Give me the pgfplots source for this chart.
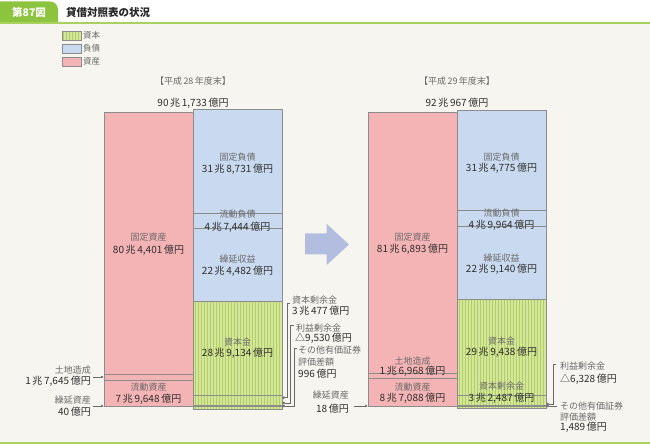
\documentclass[border=0pt]{standalone}
\usepackage{pgfplots}
\pgfplotsset{compat=1.18}
\usepackage{pgfplotstable}
\usepackage{fontspec}
\setmainfont{Noto Sans CJK JP}
\usetikzlibrary{patterns,arrows.meta}

\definecolor{bg}{HTML}{F6F5F0}
\definecolor{assetpink}{HTML}{F4B3B4}
\definecolor{liabblue}{HTML}{C9D9EF}
\definecolor{capgreen}{HTML}{D3E69B}
\definecolor{capstripe}{HTML}{B2CE64}
\definecolor{edge}{HTML}{8C8C8C}
\definecolor{tabgreen}{HTML}{8DC43F}
\definecolor{linegreen}{HTML}{A9D15E}
\definecolor{arrowblue}{HTML}{B3BDE0}
\definecolor{labgray}{HTML}{6A6A6A}
\definecolor{valdark}{HTML}{2E2E2E}

% values in trillion yen (cho-en); columns 0 = assets bar, 1 = liabilities/net assets bar
\pgfplotstableread{
x deferred current land fixed other capsur retained capital defrev curliab fixliab
0 0.0040 7.9648 1.7645 80.4401 0 0 0 0 0 0 0
1 0 0 0 0 0.0996 3.0477 -0.9530 28.9134 22.4482 4.7444 31.8731
}\tblA
\pgfplotstableread{
x deferred current land fixed other capsur retained capital defrev curliab fixliab
0 0.0018 8.7088 1.6968 81.6893 0 0 0 0 0 0 0
1 0 0 0 0 0.1489 3.2487 -0.6328 29.9438 22.9140 4.9964 31.4775
}\tblB

\pgfplotsset{
  bs/.style={ybar stacked, bar width=89pt, xmin=-0.5, xmax=1.5, ymin=0,
    width=178pt, height=294pt, scale only axis, hide axis, clip=false,
    every axis plot/.append style={draw=edge, line width=0.5pt}},
  pink/.style={fill=assetpink},
  blue/.style={fill=liabblue},
  green/.style={fill=capgreen, postaction={pattern=vertical lines, pattern color=capstripe}},
}
\newcommand{\bars}[1]{%
  \addplot[pink, forget plot] table[x=x, y=deferred] {#1};
  \addplot[pink, forget plot] table[x=x, y=current] {#1};
  \addplot[pink, forget plot] table[x=x, y=land] {#1};
  \addplot[pink, forget plot] table[x=x, y=fixed] {#1};
  \addplot[green, forget plot] table[x=x, y=other] {#1};
  \addplot[green, forget plot] table[x=x, y=capsur] {#1};
  \addplot[green, forget plot] table[x=x, y=retained] {#1};
  \addplot[green, forget plot] table[x=x, y=capital] {#1};
  \addplot[blue, forget plot] table[x=x, y=defrev] {#1};
  \addplot[blue, forget plot] table[x=x, y=curliab] {#1};
  \addplot[blue, forget plot] table[x=x, y=fixliab] {#1};
}

\begin{document}
\begin{tikzpicture}[x=1pt, y=1pt,
  lab/.style={font=\fontsize{9}{10}\selectfont, text=labgray, inner sep=0pt},
  val/.style={font=\fontsize{10}{11}\selectfont, text=valdark, inner sep=0pt},
  lead/.style={draw=labgray, line width=0.5pt}]
\fill[bg] (0,0) rectangle (650,-444);
\useasboundingbox (0,0) rectangle (650,-444);

% header
\fill[white] (0,0) rectangle (650,-22);
\fill[tabgreen] (0,-22) -- (0,-1.5) -- (50,-1.5) arc[start angle=90, end angle=0, radius=8] -- (58,-22) -- cycle;
\fill[linegreen] (0,-22) rectangle (650,-24);
\fill[linegreen] (0,-442) rectangle (650,-444);
\node[font=\fontsize{10.5}{12}\selectfont\bfseries, text=white, anchor=west, inner sep=0pt] at (12,-12) {第87図};
\node[font=\fontsize{10.5}{12}\selectfont\bfseries, text=black!85, anchor=west, inner sep=0pt] at (66,-12) {貸借対照表の状況};

\begin{axis}[bs, at={(104pt,-406pt)}, anchor=south west, ymax=90.1734,
  legend style={at={(axis description cs:-0.236,1.28)}, anchor=north west, draw=none, fill=none,
    inner sep=0pt, row sep=1.5pt, font=\fontsize{8.5}{10}\selectfont, text=labgray,
    nodes={inner sep=1.5pt}},
  legend image code/.code={\draw[#1, draw=edge, line width=0.5pt] (0pt,-4.5pt) rectangle (19pt,4.5pt);}]
\addlegendimage{green}\addlegendentry{資本}
\addlegendimage{blue}\addlegendentry{負債}
\addlegendimage{pink}\addlegendentry{資産}
\bars{\tblA}
\end{axis}

\begin{axis}[bs, at={(368pt,-406pt)}, anchor=south west, ymax=92.0967]
\bars{\tblB}
\end{axis}

% middle arrow
\fill[arrowblue] (305,-233.3) -- (326.7,-233.3) -- (326.7,-224) -- (349,-244.5) -- (326.7,-265) -- (326.7,-254.3) -- (305,-254.3) -- cycle;

% ---- H28 ----
\node[lab] at (193,-81) {【平成\,28\,年度末】};
\node[val] at (193,-103) {90\,兆\,1,733\,億円};
\node[lab] at (148.5,-237.5) {固定資産};
\node[val] at (148.5,-250) {80\,兆\,4,401\,億円};
\node[lab] at (237.5,-157) {固定負債};
\node[val] at (237.5,-169) {31\,兆\,8,731\,億円};
\node[lab] at (237.5,-214.5) {流動負債};
\node[val] at (237.5,-227.5) {4\,兆\,7,444\,億円};
\node[lab] at (237.5,-259) {繰延収益};
\node[val] at (237.5,-271) {22\,兆\,4,482\,億円};
\node[lab] at (237.5,-342) {資本金};
\node[val] at (237.5,-353) {28\,兆\,9,134\,億円};
\node[lab] at (148.5,-387) {流動資産};
\node[val] at (148.5,-399) {7\,兆\,9,648\,億円};
\node[lab, anchor=east] at (91,-370) {土地造成};
\node[val, anchor=east] at (91,-381.5) {1\,兆\,7,645\,億円};
\node[lab, anchor=east] at (91,-400) {繰延資産};
\node[val, anchor=east] at (91,-412) {40\,億円};
\draw[lead, -{Latex[length=3pt, width=2.6pt]}] (93,-377) -- (104,-377);
\draw[lead, -{Latex[length=3pt, width=2.6pt]}] (93,-406) -- (104,-406);
\node[lab, anchor=west] at (292,-300) {資本剰余金};
\node[val, anchor=west] at (292,-310.5) {3\,兆\,477\,億円};
\node[lab, anchor=west] at (296,-327.7) {利益剰余金};
\node[val, anchor=west] at (295,-338) {△9,530\,億円};
\node[lab, anchor=west] at (298,-350) {その他有価証券};
\node[lab, anchor=west] at (298,-362) {評価差額};
\node[val, anchor=west] at (298,-374) {996\,億円};
\draw[lead, {Circle[length=2.4pt]}-] (282.5,-397.7) -- (287,-397.7) -- (287,-303) -- (290,-303);
\draw[lead, {Circle[length=2.4pt]}-] (282.5,-403) -- (290.5,-403) -- (290.5,-325.5) -- (294,-325.5);
\draw[lead, {Circle[length=2.4pt]}-] (282.5,-406) -- (294,-406) -- (294,-348) -- (297,-348);

% ---- H29 ----
\node[lab] at (457,-81) {【平成\,29\,年度末】};
\node[val] at (457,-103) {92\,兆\,967\,億円};
\node[lab] at (412.5,-236.7) {固定資産};
\node[val] at (412.5,-249) {81\,兆\,6,893\,億円};
\node[lab] at (501.5,-156.7) {固定負債};
\node[val] at (501.5,-168) {31\,兆\,4,775\,億円};
\node[lab] at (501.5,-213) {流動負債};
\node[val] at (501.5,-225.5) {4\,兆\,9,964\,億円};
\node[lab] at (501.5,-257.7) {繰延収益};
\node[val] at (501.5,-269.3) {22\,兆\,9,140\,億円};
\node[lab] at (501.5,-340.7) {資本金};
\node[val] at (501.5,-352.3) {29\,兆\,9,438\,億円};
\node[lab] at (501.5,-386) {資本剰余金};
\node[val] at (501.5,-398.3) {3\,兆\,2,487\,億円};
\node[lab] at (412.5,-361) {土地造成};
\node[val] at (412.5,-371.7) {1\,兆\,6,968\,億円};
\node[lab] at (412.5,-386.7) {流動資産};
\node[val] at (412.5,-398.3) {8\,兆\,7,088\,億円};
\node[lab, anchor=east] at (349,-395.5) {繰延資産};
\node[val, anchor=east] at (349,-408.5) {18\,億円};
\draw[lead, -{Latex[length=3pt, width=2.6pt]}] (354,-406) -- (368,-406);
\node[lab, anchor=west] at (560,-366) {利益剰余金};
\node[val, anchor=west] at (560,-379.3) {△6,328\,億円};
\node[lab, anchor=west] at (560,-406) {その他有価証券};
\node[lab, anchor=west] at (560,-416.7) {評価差額};
\node[val, anchor=west] at (560,-427.7) {1,489\,億円};
\draw[lead, {Circle[length=2.4pt]}-] (546.5,-404) -- (553,-404) -- (553,-364) -- (556,-364);
\draw[lead, {Circle[length=2.4pt]}-] (546.5,-406) -- (557,-406);
\end{tikzpicture}
\end{document}
